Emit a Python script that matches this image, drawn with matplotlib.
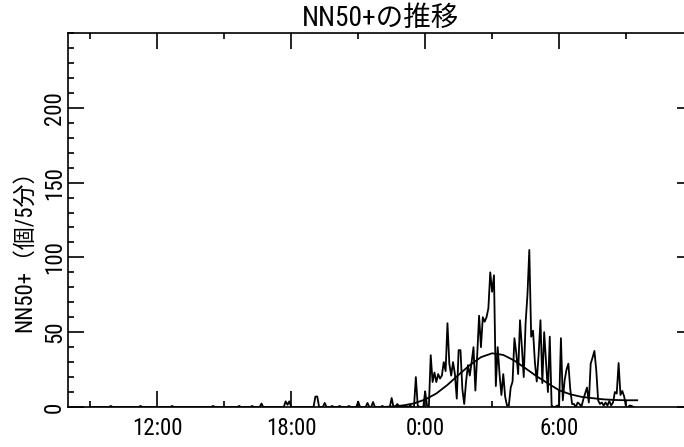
import numpy as np
import matplotlib
matplotlib.use("Agg")
from matplotlib import pyplot as plt
from matplotlib import font_manager as fm
from matplotlib.ticker import FixedLocator, MultipleLocator


# the reference uses a narrow gothic face; take a condensed latin face if one is installed
entries = fm.fontManager.ttflist
latin = None
stretch = 'normal'
for name in ['Liberation Sans Narrow', 'Roboto Condensed', 'Open Sans Condensed', 'Arial Narrow']:
    if any(f.name == name for f in entries):
        latin = name
        break
if latin is None and any(f.name == 'DejaVu Sans' and str(f.stretch) == 'condensed' for f in entries):
    latin = 'DejaVu Sans'
    stretch = 'condensed'

families = ['Noto Sans CJK JP', 'DejaVu Sans']
if latin is not None:
    families = [latin, 'Noto Sans CJK JP']
plt.rcParams['font.family'] = families
plt.rcParams['font.stretch'] = stretch
plt.rcParams['font.size'] = 16.5

title = 'NN50+の推移'
ylabel = 'NN50+（個/5分）'

# hours counted from midnight of the first day (24 = 0:00 next day)
tick_hours = [12, 18, 24, 30]
tick_labels = ['12:00', '18:00', '0:00', '6:00']
y_ticks = [0, 50, 100, 150, 200]

# quiet part, 5 min bins, zero except a few small blips
quiet_start = '9:00'
quiet_end = '22:45'
blip_times = ['9:55', '11:15', '12:40', '14:30', '15:40', '16:15', '16:40',
              '17:45', '17:50', '17:55', '19:05', '19:10', '19:30', '19:50',
              '20:10', '20:35', '21:00', '21:25', '21:40', '22:05', '22:30',
              '22:45']
blip_vals = [0.7, 0.7, 0.7, 0.7, 0.7, 0.7, 2.3,
             3.8, 1.5, 3.8, 7, 7, 2.7, 0.7,
             0.7, 0.7, 3.6, 2.7, 3.3, 0.7, 6,
             2]

# active part, 5 min bins from 22:50
active_start = '22:50'
active_vals = [0.5, 0, 1, 0, 0.5, 0, 1, 0, 0, 20,
               1, 0, 0, 0, 10.5, 1, 0, 34.6, 16.7, 23,
               16.7, 22, 19, 21, 30, 24, 56, 29, 21, 30,
               22, 5.6, 38, 38, 12, 2, 17, 28, 21, 30,
               40, 11, 35, 61, 40, 60, 57, 60, 66, 90,
               77, 88, 14, 40, 22, 8, 22, 7, 1, 1,
               13, 17, 46, 36, 22, 58, 40, 20, 56, 75,
               105, 47, 51, 30, 17, 35, 58, 16, 50, 30,
               10, 47, 1, 0, 0, 1, 0, 46, 4.5, 18,
               25, 29, 12, 2, 2, 0, 3, 2, 0, 5,
               9, 13, 3, 29, 33, 37.5, 24.5, 4.5, 2, 3,
               1, 3, 1, 4, 1, 3, 10, 9, 29.4, 8,
               10.7, 7, 0, 0, 1, 0.7, 0]

# smooth trend curve
trend_hours = [22.0, 22.5, 23.0, 23.5, 24.0, 24.5, 25.0, 25.5, 26.0, 26.5,
               27.0, 27.5, 28.0, 28.5, 29.0, 29.5, 30.0, 30.5, 31.0, 31.5,
               32.0, 32.5, 33.0, 33.5]
trend_vals = [0.0, 0.3, 1.0, 2.4, 5.0, 9.0, 14.8, 21.5, 28.0, 33.3,
              35.9, 34.8, 31.0, 25.8, 20.5, 15.8, 11.2, 8.5, 6.8, 5.9,
              5.1, 4.7, 4.5, 4.5]


def slot(s):
    h, m = s.split(':')
    return (int(h) * 60 + int(m)) // 5


q0 = slot(quiet_start)
q1 = slot(quiet_end)
quiet = np.zeros(q1 - q0 + 1)
for t, v in zip(blip_times, blip_vals):
    quiet[slot(t) - q0] = v

a0 = slot(active_start)
slots = np.concatenate([np.arange(q0, q1 + 1), a0 + np.arange(len(active_vals))])
vals = np.concatenate([quiet, active_vals])
hours = slots / 12.0

fig = plt.figure(figsize=(6.84, 4.47), dpi=100)
ax = fig.add_axes([68 / 684, 40 / 447, 625 / 684, 374 / 447])

ax.plot(hours, vals, color='black', lw=1.3)
ax.plot(trend_hours, trend_vals, color='black', lw=1.3)

ax.set_xlim(8, 36)
ax.set_ylim(0, 250)

ax.xaxis.set_major_locator(FixedLocator(tick_hours))
ax.set_xticklabels(tick_labels)
ax.xaxis.set_minor_locator(MultipleLocator(3))
ax.yaxis.set_major_locator(FixedLocator(y_ticks))
ax.yaxis.set_minor_locator(MultipleLocator(10))

ax.tick_params(which='both', direction='in', top=True, right=True,
               labelright=False, width=1.2, color='black')
ax.tick_params(which='major', length=11.5)
ax.tick_params(which='minor', length=4.3)
ax.tick_params(axis='x', pad=7.5)
ax.tick_params(axis='y', pad=1.5, labelrotation=90)
for lab in ax.get_yticklabels():
    lab.set_va('center')

for sp in ax.spines.values():
    sp.set_linewidth(1.2)

ax.set_title(title, pad=5)
ax.set_ylabel(ylabel, va='center')
ax.yaxis.set_label_coords(-0.069, 0.432)

fig.savefig('out.png', dpi=100)
